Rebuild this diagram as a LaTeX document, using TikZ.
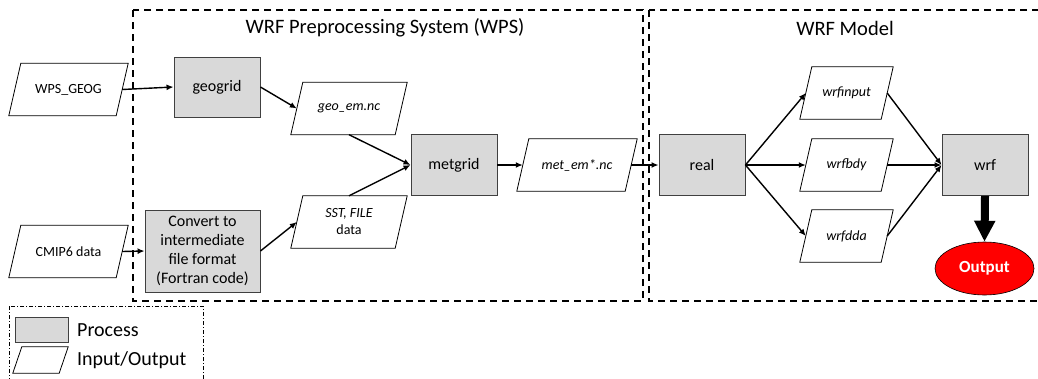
\documentclass[tikz,border=0pt]{standalone}
\usepackage{fontspec}
\setmainfont{Carlito}
\usetikzlibrary{shapes.geometric,arrows.meta}
\definecolor{procfill}{HTML}{D9D9D9}
\definecolor{procline}{HTML}{404040}
\tikzset{
  procbox/.style={draw=procline, line width=0.9pt, fill=procfill, rectangle,
    minimum width=86pt, minimum height=61pt, inner sep=0pt, align=center,
    font=\fontsize{16}{19}\selectfont},
  % parallelogram data box: the node is the rectangle through the middles of
  % the slanted sides, so its west/east anchors sit on those sides
  iobox/.style={rectangle, minimum height=52pt, inner sep=0pt,
    align=center, font=\fontsize{14}{17}\selectfont},
  ioline/.style={draw=black, line width=0.8pt, line join=miter},
  flow/.style={line width=1.4pt, -{Latex[length=7pt,width=6pt]}},
  groupbox/.style={draw=black, line width=1.5pt, dash pattern=on 7pt off 5pt},
  grouptitle/.style={font=\fontsize{20.5}{24}\selectfont},
  legendbox/.style={draw=black, line width=0.8pt,
    dash pattern=on 4pt off 2pt on 1pt off 2pt},
  legendtext/.style={anchor=west, inner sep=0pt, font=\fontsize{20}{23}\selectfont},
}
\begin{document}
\begin{tikzpicture}[x=1pt, y=-1pt]
\useasboundingbox (0,0) rectangle (1038,378);

% group frames
\draw[groupbox] (133,10) rectangle (643,301);
\draw[groupbox] (649,10) rectangle (1045,301);
\node[grouptitle] (wpstitle) at (385,28) {WRF Preprocessing System (WPS)};
\node[grouptitle] (wrftitle) at (845,28) {WRF Model};

% inputs
\node[iobox, minimum width=107pt] (geog) at (68.5,89.5) {WPS\_GEOG};
\node[iobox, minimum width=107pt] (cmip) at (68.5,251.5) {CMIP6 data};

% WPS stage
\node[procbox, minimum height=60pt] (geogrid) at (217,87) {geogrid};
\node[procbox, minimum width=115pt, minimum height=82pt] (convert) at (202.5,251)
  {Convert to\\intermediate\\file format\\(Fortran code)};
\node[iobox, minimum width=104pt] (geoem) at (349,108.5) {\itshape geo\_em.nc};
\node[iobox, minimum width=104pt] (sst) at (349,222) {\itshape SST, FILE\\data};
\node[procbox] (metgrid) at (454,165) {metgrid};
\node[iobox, minimum width=108pt] (metem) at (577,165) {\itshape met\_em*.nc};

% WRF stage
\node[procbox] (real) at (702,165) {real};
\node[iobox, minimum width=81pt] (wrfinput) at (846.5,93) {\itshape wrfinput};
\node[iobox, minimum width=81pt] (wrfbdy) at (846.5,165) {\itshape wrfbdy};
\node[iobox, minimum width=81pt] (wrfdda) at (846.5,236) {\itshape wrfdda};
\node[procbox] (wrf) at (985,165) {wrf};
\node[ellipse, draw=black, line width=0.6pt, fill=red, minimum width=99pt,
  minimum height=53pt, inner sep=0pt, text=white,
  font=\fontsize{17}{20}\selectfont\bfseries] (out) at (984.5,268.5) {Output};

% parallelogram outlines of the data boxes
\foreach \n in {geog,cmip,geoem,sst,metem,wrfinput,wrfbdy,wrfdda}
  \draw[ioline] ([xshift=6pt]\n.north west) -- ([xshift=6pt]\n.north east)
    -- ([xshift=-6pt]\n.south east) -- ([xshift=-6pt]\n.south west) -- cycle;

% connectors
\draw[flow] (geog.east) -- (geogrid.west);
\draw[flow] (cmip.east) -- (convert.west);
\draw[flow] (geogrid.east) -- (geoem.west);
\draw[flow] (convert.east) -- (sst.west);
\draw[flow] (geoem.south) -- (metgrid.west);
\draw[flow] (sst.north) -- (metgrid.west);
\draw[flow] (metgrid.east) -- (metem.west);
\draw[flow] (metem.east) -- (real.west);
\draw[flow] (real.east) -- (wrfinput.west);
\draw[flow] (real.east) -- (wrfbdy.west);
\draw[flow] (real.east) -- (wrfdda.west);
\draw[flow] (wrfinput.east) -- (wrf.west);
\draw[flow] (wrfbdy.east) -- (wrf.west);
\draw[flow] (wrfdda.east) -- (wrf.west);
\draw[line width=8pt, -{Triangle[length=21pt,width=20pt]}] (wrf.south) -- (out.north);

% legend
\draw[legendbox] (9,306) rectangle (203,385);
\node[procbox, minimum width=53pt, minimum height=25pt] (legproc) at (41.5,329.5) {};
\node[iobox, minimum width=46pt, minimum height=26pt] (legio) at (40.5,360) {};
\draw[ioline] ([xshift=4.5pt]legio.north west) -- ([xshift=4.5pt]legio.north east)
  -- ([xshift=-4.5pt]legio.south east) -- ([xshift=-4.5pt]legio.south west) -- cycle;
\node[legendtext] (legproctext) at (77,330) {Process};
\node[legendtext] (legiotext) at (77,360) {Input/Output};
\end{tikzpicture}
\end{document}
